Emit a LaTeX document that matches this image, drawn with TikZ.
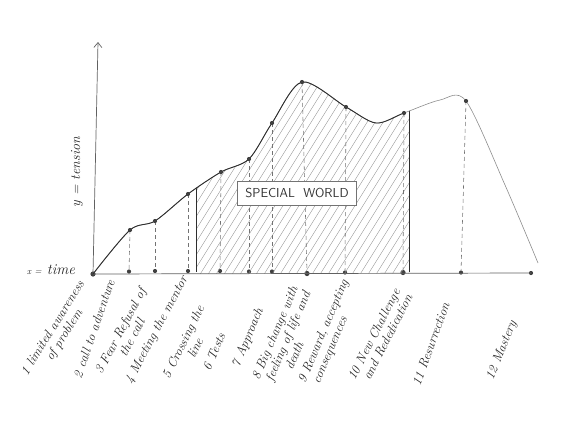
\documentclass[tikz,border=0pt]{standalone}
\usetikzlibrary{arrows.meta}
\tikzset{
  pencil/.style={draw=black!82, line width=0.9pt},
  softpencil/.style={draw=black!45, line width=0.6pt},
  dashline/.style={draw=black!55, dash pattern=on 4pt off 3pt, line width=0.55pt},
  hatch/.style={draw=black!40, line width=0.4pt},
  dot/.style={circle, fill=black!75, inner sep=0pt, minimum size=4.2pt},
  bigdot/.style={dot, minimum size=5.2pt},
  axisline/.style={draw=black!62, line width=0.7pt},
  lab/.style={font=\fontsize{13}{13.5}\selectfont\itshape, text=black!85, align=center, inner sep=0.5pt},
  worldbox/.style={draw=black!55, fill=white, line width=0.5pt, minimum width=119pt, minimum height=24pt,
     font=\fontsize{13}{15}\selectfont\sffamily, text=black!80}
}
\begin{document}
\begin{tikzpicture}[x=1pt,y=-1pt]
\useasboundingbox (0,0) rectangle (565,421);
% axis points
\node[bigdot] (a1) at (93,274) {};
\node[dot] (a2) at (129,271.5) {};
\node[dot] (a3) at (155,271) {};
\node[dot] (a4) at (188,271) {};
\node[dot] (a5) at (220,271) {};
\node[dot] (a6) at (249,271.5) {};
\node[dot] (a7) at (272,271.5) {};
\node[bigdot] (a8) at (307,273.5) {};
\node[dot] (a9) at (345,272.5) {};
\node[bigdot] (a10) at (403,272.5) {};
\node[dot] (a11) at (461,272.5) {};
\node[dot] (a12) at (531,273) {};
% curve points
\coordinate (c2) at (130,230);
\coordinate (c3) at (155,221);
\coordinate (c4) at (188,194);
\coordinate (c5) at (221,172);
\coordinate (c6) at (249,159);
\coordinate (c7) at (272,123);
\coordinate (c8) at (302,82);
\coordinate (c9) at (346,107);
\coordinate (m1) at (376,123);
\coordinate (c10) at (404,113);
\coordinate (m2) at (440,100);
\coordinate (c11) at (466,101);
\coordinate (m3) at (505,185);
\coordinate (cend) at (538,263);
\coordinate (ytip) at (98,42);
% hatched special world
\begin{scope}
  \clip plot[smooth, tension=0.5] coordinates {(a1.center) (c2) (c3) (c4) (c5) (c6) (c7) (c8) (c9) (m1) (c10) (m2) (c11) (m3) (cend)} -- (538,273) -- (93,274) -- cycle;
  \begin{scope}
    \clip (196,0) rectangle (409,280);
    \foreach \i in {0,...,60} { \draw[hatch] (40+\i*8,300) -- ++(150,-240); }
  \end{scope}
  \draw[pencil, line width=0.7pt] (196,40) -- (196,272);
  \draw[pencil, line width=0.7pt] (409,40) -- (409,272);
\end{scope}
% dashed drops
\foreach \i in {2,...,11} { \draw[dashline] (c\i) -- (a\i); }
% axes
\draw[axisline] (a1.center) -- (a12.center);
\draw[axisline, -{Straight Barb[length=5pt,width=8pt]}] (a1.center) -- (ytip);
% the curve
\draw[softpencil] plot[smooth, tension=0.5] coordinates {(a1.center) (c2) (c3) (c4) (c5) (c6) (c7) (c8) (c9) (m1) (c10) (m2) (c11) (m3) (cend)};
\begin{scope}
  \clip (0,0) rectangle (405,421);
  \draw[pencil] plot[smooth, tension=0.5] coordinates {(a1.center) (c2) (c3) (c4) (c5) (c6) (c7) (c8) (c9) (m1) (c10) (m2) (c11) (m3) (cend)};
\end{scope}
% curve dots
\foreach \p in {c2,c3,c4,c5,c6,c7,c8,c9,c10,c11} { \node[dot] (d\p) at (\p) {}; }
% box
\node[worldbox] (world) at (297,193) {SPECIAL\ \ WORLD};
% axis labels
\node[lab, rotate=90, font=\fontsize{14}{15}\selectfont\itshape] (ylab) at (77,172) {y = tension};
\node[lab, font=\fontsize{15}{15}\selectfont\itshape] (xlab) at (51,270) {{\small x =} time};
% stage labels
\node[lab, rotate=58] (l1) at (59,332) {1 limited awareness\\of problem};
\node[lab, rotate=71] (l2) at (94,329) {2 call to adventure};
\node[lab, rotate=62] (l3) at (126,334) {3 Fear Refusal of\\the call};
\node[lab, rotate=62] (l4) at (157,330) {4 Meeting the mentor};
\node[lab, rotate=64] (l5) at (189,345) {5 Crossing the\\line};
\node[lab, rotate=67] (l6) at (214,352) {6 Tests};
\node[lab, rotate=67] (l7) at (248,338) {7 Approach};
\node[lab, rotate=67, align=left] (l8) at (287,338) {8 Big change with\\\hspace{4pt}feeling of life and\\\hspace{22pt}death};
\node[lab, rotate=67, align=left] (l9) at (330,334) {9 Reward, accepting\\\hspace{5pt}consequences};
\node[lab, rotate=63, align=left] (l10) at (380,337) {10 New Challenge\\\hspace{7pt}and Rededication};
\node[lab, rotate=70] (l11) at (431,344) {11 Resurrection};
\node[lab, rotate=68] (l12) at (502,350) {12 Mastery};
\end{tikzpicture}
\end{document}
